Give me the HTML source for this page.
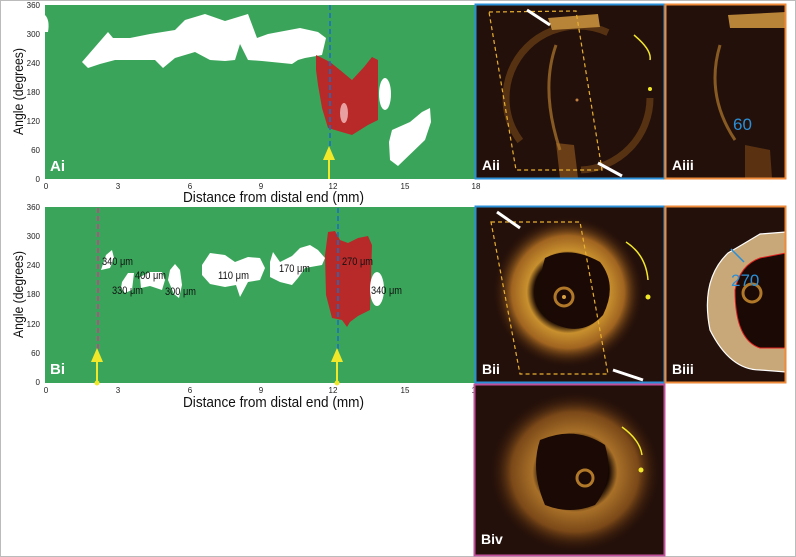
<!DOCTYPE html>
<html><head><meta charset="utf-8"><style>
html,body{margin:0;padding:0;background:#fff}
svg{display:block}
text{font-family:"Liberation Sans Narrow","Liberation Sans",sans-serif}
</style></head><body>
<svg width="796" height="557" viewBox="0 0 796 557" xmlns="http://www.w3.org/2000/svg">
<defs>
<radialGradient id="ringB" cx="50%" cy="50%" r="50%"><stop offset="0.45" stop-color="#1a0a04"/><stop offset="0.55" stop-color="#c8902e"/><stop offset="0.75" stop-color="#a06420"/><stop offset="1" stop-color="#2a1207" stop-opacity="0"/></radialGradient>
<radialGradient id="ringD" cx="50%" cy="50%" r="50%"><stop offset="0.4" stop-color="#150803"/><stop offset="0.5" stop-color="#a87028"/><stop offset="0.75" stop-color="#7a4818"/><stop offset="1" stop-color="#2a1207" stop-opacity="0"/></radialGradient>
</defs>
<rect x="0.5" y="0.5" width="795" height="556" fill="#fff" stroke="#bbb"/>

<!-- TOP CHART -->
<rect x="45" y="5" width="431" height="174" fill="#3aa55a"/>
<path d="M82,62 L108,32 L113,38 L130,38 L150,34 L175,30 L185,20 L205,14 L225,21 L248,14 L257,38 L268,34 L300,28 L318,32 L326,38 L322,55 L305,58 L298,60 L292,64 L262,61 L248,60 L240,44 L235,60 L225,61 L210,60 L195,52 L175,58 L163,68 L155,60 L140,60 L115,60 L100,64 L88,68 Z" fill="#fff"/>
<path d="M45,15 Q50,20 48,32 L45,32 Z" fill="#fff"/>
<path d="M316,55 L330,62 L340,70 L352,80 L364,67 L372,57 L378,60 L378,120 L368,125 L352,135 L345,133 L328,128 L322,108 L318,85 L316,70 Z" fill="#b82a2a"/>
<ellipse cx="344" cy="113" rx="4" ry="10" fill="#e8a0a0"/>
<ellipse cx="385" cy="94" rx="6" ry="16" fill="#fff"/>
<path d="M392,130 L410,122 L422,112 L430,108 L431,122 L425,140 L398,166 L390,160 L389,142 Z" fill="#fff"/>
<line x1="330" y1="5" x2="330" y2="147" stroke="#1a6fc2" stroke-width="1.6" stroke-dasharray="5,3"/>
<line x1="329" y1="179" x2="329" y2="158" stroke="#f2e82a" stroke-width="2"/>
<polygon points="323,160 335,160 329,146" fill="#f2e82a"/>
<text x="50" y="171" font-size="15" font-weight="bold" fill="#fff">Ai</text>
<g font-size="8" fill="#222" text-anchor="end">
<text x="40" y="8">360</text><text x="40" y="37">300</text><text x="40" y="66">240</text><text x="40" y="95">180</text><text x="40" y="124">120</text><text x="40" y="153">60</text><text x="40" y="182">0</text>
</g>
<g font-size="8" fill="#222" text-anchor="middle">
<text x="46" y="189">0</text><text x="118" y="189">3</text><text x="190" y="189">6</text><text x="261" y="189">9</text><text x="333" y="189">12</text><text x="405" y="189">15</text><text x="476" y="189">18</text>
</g>
<text x="183" y="202" font-size="15" fill="#111" textLength="181" lengthAdjust="spacingAndGlyphs">Distance from distal end (mm)</text>
<text transform="translate(23,135) rotate(-90)" font-size="14" fill="#111" textLength="87" lengthAdjust="spacingAndGlyphs">Angle (degrees)</text>

<!-- BOTTOM CHART -->
<rect x="45" y="207" width="430" height="176" fill="#3aa55a"/>
<path d="M101,270 L106,255 L112,250 L114,258 L110,268 Z" fill="#fff"/>
<path d="M122,282 L128,273 L134,273 L132,290 L125,293 L121,288 Z" fill="#fff"/>
<path d="M140,277 L150,272 L162,272 L165,280 L162,290 L150,286 L141,288 Z" fill="#fff"/>
<path d="M170,270 L175,264 L180,270 L182,285 L179,298 L174,294 L168,280 Z" fill="#fff"/>
<path d="M202,265 L210,253 L225,255 L235,262 L248,257 L260,258 L265,268 L260,280 L248,282 L240,297 L236,285 L225,287 L210,284 L202,275 Z" fill="#fff"/>
<path d="M270,262 L273,252 L280,262 L292,256 L300,248 L310,245 L318,250 L325,258 L322,265 L305,268 L298,278 L292,285 L280,282 L270,277 Z" fill="#fff"/>
<path d="M328,232 L335,231 L340,240 L348,243 L358,238 L368,236 L372,245 L370,310 L358,316 L350,322 L347,327 L342,320 L332,318 L326,295 L325,255 Z" fill="#b82a2a"/>
<ellipse cx="377" cy="289" rx="7" ry="17" fill="#fff"/>
<g font-size="11" fill="#111" lengthAdjust="spacingAndGlyphs">
<text x="102" y="265" textLength="31" lengthAdjust="spacingAndGlyphs">340 μm</text>
<text x="135" y="279" textLength="31" lengthAdjust="spacingAndGlyphs">400 μm</text>
<text x="112" y="294" textLength="31" lengthAdjust="spacingAndGlyphs">330 μm</text>
<text x="165" y="295" textLength="31" lengthAdjust="spacingAndGlyphs">300 μm</text>
<text x="218" y="279" textLength="31" lengthAdjust="spacingAndGlyphs">110 μm</text>
<text x="279" y="272" textLength="31" lengthAdjust="spacingAndGlyphs">170 μm</text>
<text x="342" y="265" textLength="31" lengthAdjust="spacingAndGlyphs">270 μm</text>
<text x="371" y="294" textLength="31" lengthAdjust="spacingAndGlyphs">340 μm</text>
</g>
<line x1="98" y1="208" x2="98" y2="350" stroke="#c8408a" stroke-width="1.6" stroke-dasharray="5,3"/>
<line x1="338" y1="208" x2="338" y2="350" stroke="#1a6fc2" stroke-width="1.6" stroke-dasharray="5,3"/>
<line x1="97" y1="383" x2="97" y2="360" stroke="#f2e82a" stroke-width="2"/>
<polygon points="91,362 103,362 97,348" fill="#f2e82a"/>
<circle cx="97" cy="383" r="2.5" fill="#f2e82a"/>
<line x1="337" y1="383" x2="337" y2="360" stroke="#f2e82a" stroke-width="2"/>
<polygon points="331,362 343,362 337,348" fill="#f2e82a"/>
<circle cx="337" cy="383" r="2.5" fill="#f2e82a"/>
<text x="50" y="374" font-size="15" font-weight="bold" fill="#fff">Bi</text>
<g font-size="8" fill="#222" text-anchor="end">
<text x="40" y="210">360</text><text x="40" y="239">300</text><text x="40" y="268">240</text><text x="40" y="297">180</text><text x="40" y="327">120</text><text x="40" y="356">60</text><text x="40" y="385">0</text>
</g>
<g font-size="8" fill="#222" text-anchor="middle">
<text x="46" y="393">0</text><text x="118" y="393">3</text><text x="190" y="393">6</text><text x="261" y="393">9</text><text x="333" y="393">12</text><text x="405" y="393">15</text><text x="476" y="393">18</text>
</g>
<text x="183" y="407" font-size="15" fill="#111" textLength="181" lengthAdjust="spacingAndGlyphs">Distance from distal end (mm)</text>
<text transform="translate(23,338) rotate(-90)" font-size="14" fill="#111" textLength="87" lengthAdjust="spacingAndGlyphs">Angle (degrees)</text>

<!-- Aii -->
<g>
<rect x="476" y="5" width="188" height="173" fill="#24100a"/>
<circle cx="578" cy="98" r="72" fill="none" stroke="#7a4a18" stroke-width="7" stroke-dasharray="110,70,190,90" opacity="0.6"/>
<path d="M548,18 L598,14 L600,27 L552,30 Z" fill="#b88438"/>
<path d="M556,143 L574,145 L578,178 L560,178 Z" fill="#6a3e16"/>
<path d="M556,45 Q540,90 560,150" fill="none" stroke="#b07a2c" stroke-width="3" opacity="0.7"/>
<circle cx="577" cy="100" r="1.5" fill="#c08040"/>
<path d="M634,35 Q652,50 650,60" fill="none" stroke="#f2e82a" stroke-width="1.5"/>
<circle cx="650" cy="89" r="2" fill="#f2e82a"/>
<polygon points="489,12 576,11 602,170 516,170" fill="none" stroke="#e8b030" stroke-width="1.2" stroke-dasharray="4,3"/>
<line x1="527" y1="10" x2="550" y2="25" stroke="#fff" stroke-width="3"/>
<line x1="622" y1="176" x2="598" y2="163" stroke="#fff" stroke-width="3"/>
<text x="482" y="170" font-size="14" font-weight="bold" fill="#fff">Aii</text>
<rect x="475.5" y="4.5" width="189" height="174" fill="none" stroke="#2b8fd8" stroke-width="2"/>
</g>
<!-- Aiii -->
<g>
<rect x="666" y="5" width="120" height="173" fill="#24100a"/>
<path d="M728,15 L786,12 L786,28 L730,28 Z" fill="#b88438"/>
<path d="M720,45 Q705,95 735,140" fill="none" stroke="#b07a2c" stroke-width="3" opacity="0.7"/>
<path d="M745,145 L770,150 L772,178 L745,178 Z" fill="#5a3212"/>
<text x="733" y="130" font-size="17" font-family="Liberation Sans" fill="#2b8fd8">60</text>
<text x="672" y="170" font-size="14" font-weight="bold" fill="#fff">Aiii</text>
<rect x="665.5" y="4.5" width="120" height="174" fill="none" stroke="#ee8a3a" stroke-width="2"/>
</g>
<!-- Bii -->
<g>
<rect x="476" y="207" width="188" height="175" fill="#24100a"/>
<ellipse cx="568" cy="292" rx="75" ry="75" fill="url(#ringB)"/>
<path d="M545,258 Q570,245 600,262 Q618,285 603,315 Q580,340 548,320 Q535,290 545,258 Z" fill="#1a0904"/>
<circle cx="564" cy="297" r="9" fill="none" stroke="#b07828" stroke-width="3"/>
<circle cx="564" cy="297" r="2" fill="#d8a040"/>
<path d="M626,242 Q646,255 648,280" fill="none" stroke="#f2e82a" stroke-width="1.5"/>
<circle cx="648" cy="297" r="2.5" fill="#f2e82a"/>
<polygon points="491,222 580,222 608,374 520,374" fill="none" stroke="#e8b030" stroke-width="1.2" stroke-dasharray="4,3"/>
<line x1="497" y1="212" x2="520" y2="228" stroke="#fff" stroke-width="3"/>
<line x1="643" y1="380" x2="613" y2="370" stroke="#fff" stroke-width="3"/>
<text x="482" y="374" font-size="14" font-weight="bold" fill="#fff">Bii</text>
<rect x="475.5" y="206.5" width="189" height="176" fill="none" stroke="#2b8fd8" stroke-width="2"/>
</g>
<!-- Biii -->
<g>
<rect x="666" y="207" width="120" height="175" fill="#24100a"/>
<path d="M786,232 L760,234 Q740,246 728,253 Q700,280 710,330 Q730,370 760,370 L786,372 Z" fill="#c8a878" stroke="#fff" stroke-width="1.2"/>
<path d="M786,253 L760,258 Q740,265 735,290 Q735,340 760,348 L786,348 Z" fill="#1a0904" stroke="#e02020" stroke-width="1"/>
<circle cx="752" cy="293" r="9" fill="none" stroke="#b07828" stroke-width="3"/>
<line x1="731" y1="249" x2="744" y2="262" stroke="#2b8fd8" stroke-width="1.5"/>
<text x="731" y="286" font-size="17" font-family="Liberation Sans" fill="#2b8fd8">270</text>
<text x="672" y="374" font-size="14" font-weight="bold" fill="#fff">Biii</text>
<rect x="665.5" y="206.5" width="120" height="176" fill="none" stroke="#ee8a3a" stroke-width="2"/>
</g>
<!-- Biv -->
<g>
<rect x="475" y="385" width="189" height="170" fill="#24100a"/>
<ellipse cx="575" cy="472" rx="85" ry="80" fill="url(#ringD)"/>
<path d="M540,440 Q575,425 605,445 Q615,480 595,505 Q570,515 545,505 Q530,470 540,440 Z" fill="#1a0904"/>
<circle cx="585" cy="478" r="8" fill="none" stroke="#b07828" stroke-width="3"/>
<path d="M622,427 Q640,440 642,455" fill="none" stroke="#f2e82a" stroke-width="1.5"/>
<circle cx="641" cy="470" r="2.5" fill="#f2e82a"/>
<text x="481" y="544" font-size="14" font-weight="bold" fill="#fff">Biv</text>
<rect x="474.5" y="384.5" width="190" height="171" fill="none" stroke="#c0509a" stroke-width="2"/>
</g>
</svg>
</body></html>
